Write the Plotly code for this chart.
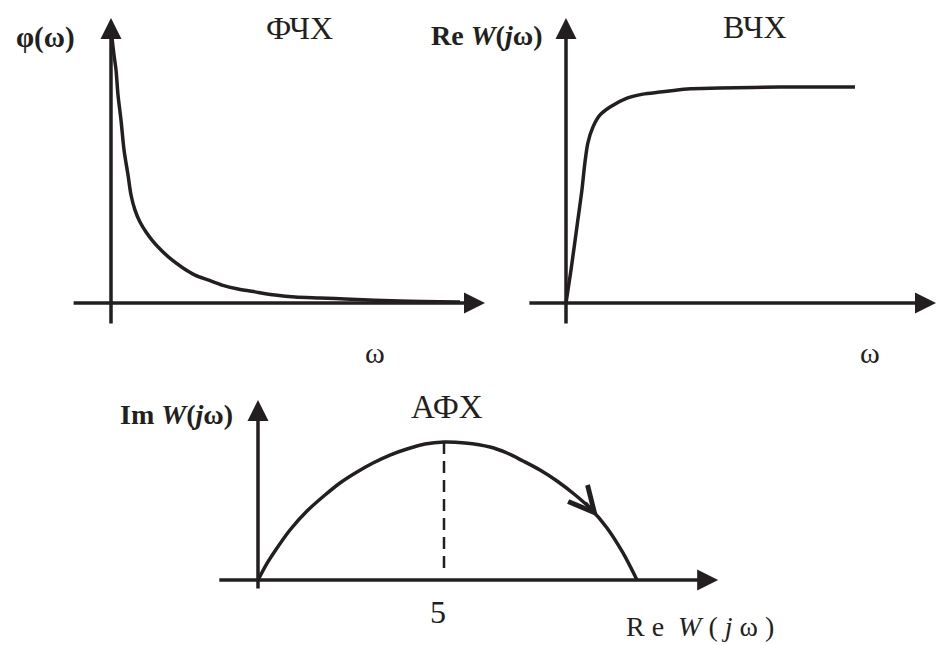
import plotly.graph_objects as go

W, H = 936, 645
INK = "#231f20"
SERIF = "Liberation Serif, Times New Roman, serif"

# ФЧХ: phase response (arbitrary units)
phase_w = [0.027, 0.080, 0.134, 0.187, 0.267, 0.348, 0.455, 0.535, 0.642, 0.775, 0.936, 1.096,
           1.337, 1.631, 1.925, 2.246, 2.594, 2.968, 3.396, 3.850, 4.385, 4.920, 5.588, 6.257,
           7.727, 9.332]
phase_phi = [9.30, 8.70, 8.18, 7.30, 6.42, 5.37, 4.49, 3.79, 3.26, 2.84, 2.49, 2.21,
             1.86, 1.51, 1.23, 0.98, 0.81, 0.63, 0.49, 0.39, 0.28, 0.21, 0.175, 0.14,
             0.07, 0.035]

# ВЧХ: real-part response
real_w = [0.0, 0.135, 0.32, 0.43, 0.51, 0.59, 0.73, 0.92, 1.19, 1.65, 2.08, 2.54, 3.27, 4.16, 5.78, 7.81]
real_u = [0.0, 1.16, 2.91, 3.96, 4.91, 5.61, 6.18, 6.60, 6.88, 7.19, 7.33, 7.40, 7.51, 7.54, 7.58, 7.58]

# АФХ: Nyquist plot (arc)
afc_re = [0.0, 0.215, 0.457, 0.860, 1.317, 1.801, 2.204, 2.661, 3.091, 3.548, 4.005, 4.489,
          5.0, 5.565, 6.237, 6.694, 7.124, 7.581, 8.038, 8.495, 8.925, 9.382, 9.812, 10.188]
afc_im = [0.0, 0.403, 0.780, 1.344, 1.855, 2.285, 2.608, 2.903, 3.145, 3.360, 3.522, 3.656,
          3.710, 3.683, 3.575, 3.414, 3.199, 2.957, 2.661, 2.312, 1.935, 1.398, 0.726, 0.0]
afc_peak_re = [5.0, 5.0]
afc_peak_im = [0.32, 3.71]
afc_ticks = [5]
afc_ticktext = ["5"]

# direction marker on the hodograph: tail -> head
dir_re = [8.78, 9.14]
dir_im = [2.12, 1.70]

# axis extents (start, arrow tip) per panel
axes_ext = {
    "": dict(x=(-1.04, 10.0), y=(-0.77, 10.0)),
    "2": dict(x=(-1.03, 10.0), y=(-0.77, 10.0)),
    "3": dict(x=(-1.08, 12.37), y=(-0.27, 4.84)),
}

fig = go.Figure()


def place(n, box, origin, scale):
    # box/origin in pixels of the page, scale in px per unit
    x0, y0, x1, y1 = box
    ox, oy = origin
    sx, sy = scale
    fig.update_layout({
        f"xaxis{n}": dict(domain=[x0 / W, x1 / W], range=[(x0 - ox) / sx, (x1 - ox) / sx],
                          visible=False, anchor=f"y{n}", fixedrange=True),
        f"yaxis{n}": dict(domain=[1 - y1 / H, 1 - y0 / H], range=[(oy - y1) / sy, (oy - y0) / sy],
                          visible=False, anchor=f"x{n}", fixedrange=True),
    })


place("", (0, 0, 500, 370), (111, 303), (37.4, 28.5))
place("2", (400, 0, 936, 370), (566, 303), (37.0, 28.5))
place("3", (100, 375, 800, 645), (258, 580), (37.2, 37.2))

curve = dict(mode="lines", line=dict(color=INK, width=3.5, shape="spline", smoothing=0.8),
             hoverinfo="skip", showlegend=False)
fig.add_trace(go.Scatter(x=phase_w, y=phase_phi, xaxis="x", yaxis="y", **curve))
fig.add_trace(go.Scatter(x=real_w, y=real_u, xaxis="x2", yaxis="y2", **curve))
fig.add_trace(go.Scatter(x=afc_re, y=afc_im, xaxis="x3", yaxis="y3", **curve))
fig.add_trace(go.Scatter(x=afc_peak_re, y=afc_peak_im, xaxis="x3", yaxis="y3", mode="lines",
                         line=dict(color=INK, width=2.5, dash="12px,7px"),
                         hoverinfo="skip", showlegend=False))

annotations = []
# axes with arrowheads
for n, ext in axes_ext.items():
    xr, yr = f"x{n}", f"y{n}"
    common = dict(xref=xr, yref=yr, axref=xr, ayref=yr, text="", showarrow=True,
                  arrowhead=2, arrowwidth=3.5, arrowsize=1.2, arrowcolor=INK)
    annotations.append(dict(x=ext["x"][1], y=0, ax=ext["x"][0], ay=0, **common))
    annotations.append(dict(x=0, y=ext["y"][1], ax=0, ay=ext["y"][0], **common))

# direction chevron on the hodograph
annotations.append(dict(xref="x3", yref="y3", axref="x3", ayref="y3",
                        x=dir_re[1], y=dir_im[1], ax=dir_re[0], ay=dir_im[0], text="",
                        showarrow=True, arrowhead=5, arrowwidth=2.5, arrowsize=2.0,
                        arrowcolor=INK))


def label(text, x, y, n="", size=26):
    annotations.append(dict(xref=f"x{n}", yref=f"y{n}", x=x, y=y, text=text, showarrow=False,
                            font=dict(family=SERIF, size=size, color=INK)))


label("<b>φ(ω)</b>", -1.76, 9.3, size=29)
label("ФЧХ", 5.05, 9.65, size=32)
label("ω", 7.06, -1.72, size=30)

label("<b>Re <i>W</i>(<i>j</i>ω)</b>", -2.14, 9.37, "2", size=28)
label("ВЧХ", 5.11, 9.68, "2", size=32)
label("ω", 8.22, -1.72, "2", size=30)

label("<b>Im <i>W</i>(<i>j</i>ω)</b>", -2.18, 4.44, "3", size=28)
label("АФХ", 5.08, 4.65, "3", size=33)
for v, t in zip(afc_ticks, afc_ticktext):
    label(t, v - 0.17, -0.86, "3", size=32)
label("R e  <i>W</i> ( <i>j</i> ω )", 11.88, -1.24, "3", size=28)

fig.update_layout(
    width=W, height=H,
    margin=dict(l=0, r=0, t=0, b=0),
    paper_bgcolor="white", plot_bgcolor="rgba(0,0,0,0)",
    annotations=annotations,
)

# the page body has a default margin; drop it so the figure sits at 0,0
fig.write_html("out.html", config={"displayModeBar": False},
               post_script="document.body.style.margin='0';")
